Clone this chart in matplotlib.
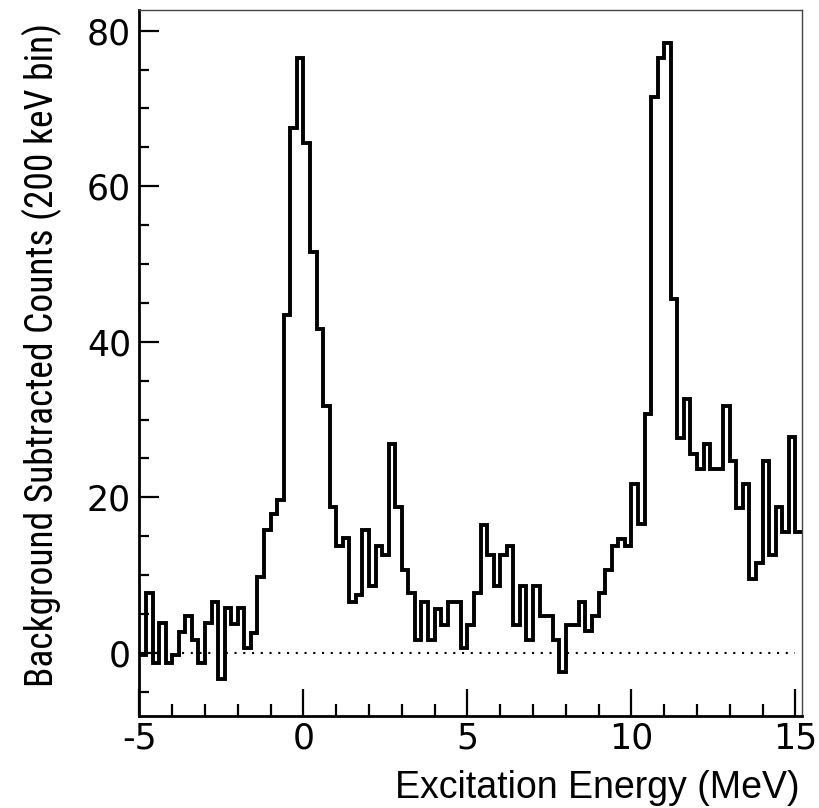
import numpy as np
import matplotlib.pyplot as plt

# 200 keV bins from -5 MeV
bin_start = -5.0
bin_width = 0.2
counts = [
    -0.3, 7.7, -1.3, 3.9, -1.3, -0.3, 2.7, 4.7, 1.7, -1.3,
    3.9, 6.6, -3.4, 5.8, 3.7, 5.8, 0.6, 2.6, 9.8, 15.8,
    17.8, 19.7, 43.5, 67.5, 76.5, 65.6, 51.6, 41.6, 31.7, 18.7,
    13.7, 14.8, 6.6, 7.5, 15.8, 8.6, 13.7, 12.6, 26.8, 18.8,
    10.7, 7.7, 1.7, 6.6, 1.7, 5.6, 3.6, 6.6, 6.6, 0.6,
    3.6, 7.7, 16.5, 12.6, 8.6, 12.6, 13.7, 3.6, 8.6, 1.7,
    8.6, 4.7, 4.7, 1.7, -2.4, 3.6, 3.6, 6.6, 2.8, 4.7,
    7.7, 10.7, 13.7, 14.6, 13.7, 21.7, 16.6, 30.7, 71.5, 76.5,
    78.4, 45.5, 27.6, 32.6, 25.6, 23.6, 26.8, 23.6, 23.6, 31.7,
    24.7, 18.6, 21.7, 9.5, 11.6, 24.7, 12.6, 18.7, 15.6, 27.8,
    15.6,
]
xticks = [-5, 0, 5, 10, 15]
yticks = [0, 20, 40, 60, 80]

edges = bin_start + bin_width * np.arange(len(counts) + 1)

fig = plt.figure(figsize=(8.2, 8.08), dpi=100)
ax = fig.add_axes([0.170, 0.114, 0.808, 0.874])

ax.stairs(counts, edges, baseline=None, color='black', lw=2.8)
ax.hlines(0, -3.7, 15.0, colors='black', linestyles=(0, (1, 3.2)), lw=1.5)

ax.set_xlim(-5, 15.2)
ax.set_ylim(-8.1, 82.7)

ax.set_xticks(xticks)
ax.set_xticks(np.arange(-5, 16, 1), minor=True)
ax.set_yticks(yticks)
ax.set_yticks(np.arange(-5, 81, 5), minor=True)
ax.set_xticklabels(['-5', '0', '5', '10', '15'])

ax.tick_params(axis='both', which='both', direction='in', top=False, right=False,
               width=1.6, color='black')
ax.tick_params(axis='x', which='major', length=19.5, labelsize=25, pad=4)
ax.tick_params(axis='x', which='minor', length=9)
ax.tick_params(axis='y', which='major', length=14.5, labelsize=25, pad=6)
ax.tick_params(axis='y', which='minor', length=7)

for s in ['left', 'bottom']:
    ax.spines[s].set_linewidth(2.0)
for s in ['top', 'right']:
    ax.spines[s].set_linewidth(1.0)
    ax.spines[s].set_color('#444444')

for lab in ax.get_xticklabels() + ax.get_yticklabels():
    lab.set_family(['DejaVu Sans'])

ax.set_xlabel('Excitation Energy (MeV)', fontsize=27,
              family=['Liberation Sans', 'DejaVu Sans'], ha='right', va='top')
ax.xaxis.set_label_coords(0.997, -0.077)
ax.set_ylabel('Background Subtracted Counts (200 keV bin)', fontsize=27,
              family=['Roboto Condensed', 'DejaVu Sans'], va='bottom')
ax.yaxis.set_label_coords(-0.117, 0.511)

fig.savefig('out.png', dpi=100)
